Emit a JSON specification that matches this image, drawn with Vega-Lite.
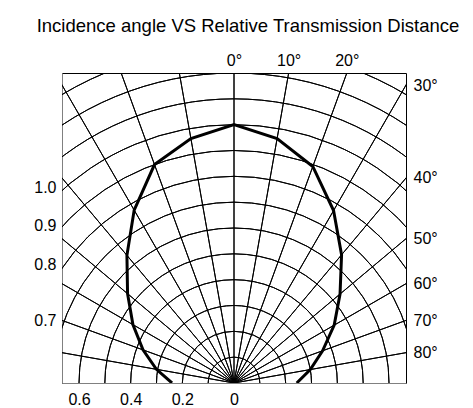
{
  "$schema": "https://vega.github.io/schema/vega-lite/v6.json",
  "width": 344,
  "height": 310,
  "autosize": "none",
  "padding": {"left": 62, "top": 73, "right": 67, "bottom": 25},
  "background": "white",
  "config": {
    "view": {"stroke": "black", "strokeWidth": 1},
    "font": "Liberation Sans",
    "axis": {"labelFont": "Liberation Sans", "labelFontSize": 16, "labelColor": "black", "ticks": false, "grid": false, "domain": false, "title": null}
  },
  "title": {
    "text": "Incidence angle VS Relative Transmission Distance",
    "font": "Liberation Sans",
    "fontSize": 18.5,
    "fontWeight": "normal",
    "color": "black",
    "anchor": "middle",
    "offset": 17,
    "dx": 14
  },
  "data": {
    "values": [
      {"angle": -90, "distance": 0.24},
      {"angle": -80, "distance": 0.305},
      {"angle": -70, "distance": 0.375},
      {"angle": -60, "distance": 0.452},
      {"angle": -50, "distance": 0.538},
      {"angle": -40, "distance": 0.645},
      {"angle": -30, "distance": 0.773},
      {"angle": -20, "distance": 0.9},
      {"angle": -10, "distance": 0.961},
      {"angle": 0, "distance": 1.0},
      {"angle": 10, "distance": 0.961},
      {"angle": 20, "distance": 0.892},
      {"angle": 30, "distance": 0.771},
      {"angle": 40, "distance": 0.648},
      {"angle": 50, "distance": 0.536},
      {"angle": 60, "distance": 0.448},
      {"angle": 70, "distance": 0.365},
      {"angle": 80, "distance": 0.3},
      {"angle": 90, "distance": 0.243}
    ]
  },
  "transform": [
    {"calculate": "datum.distance * sin(datum.angle * PI / 180)", "as": "x"},
    {"calculate": "datum.distance * cos(datum.angle * PI / 180)", "as": "y"}
  ],
  "layer": [
    {
      "data": {"values": [
        {"r": 0.1}, {"r": 0.2}, {"r": 0.3}, {"r": 0.4}, {"r": 0.5}, {"r": 0.6}, {"r": 0.7},
        {"r": 0.8}, {"r": 0.9}, {"r": 1.0}, {"r": 1.1}, {"r": 1.2}, {"r": 1.3}
      ]},
      "mark": {"type": "arc", "filled": false, "stroke": "black", "strokeWidth": 1, "clip": true, "y": "height"},
      "encoding": {
        "theta": {"datum": -90, "type": "quantitative", "scale": {"domain": [0, 180], "range": [0, 3.14159265]}},
        "theta2": {"datum": 90},
        "radius": {"field": "r", "type": "quantitative", "scale": {"type": "linear", "domain": [0, 1.2], "range": [0, 310], "zero": true}},
        "radius2": {"field": "r"}
      }
    },
    {
      "data": {"values": [
        {"a": -80}, {"a": -70}, {"a": -60}, {"a": -50}, {"a": -40}, {"a": -30}, {"a": -20}, {"a": -10},
        {"a": 0}, {"a": 10}, {"a": 20}, {"a": 30}, {"a": 40}, {"a": 50}, {"a": 60}, {"a": 70}, {"a": 80}
      ]},
      "mark": {"type": "arc", "filled": false, "stroke": "black", "strokeWidth": 1, "clip": true, "y": "height"},
      "encoding": {
        "theta": {"field": "a", "type": "quantitative", "stack": null},
        "theta2": {"field": "a"},
        "radius": {"datum": 0, "type": "quantitative"},
        "radius2": {"datum": 2}
      }
    },
    {
      "mark": {"type": "line", "color": "black", "strokeWidth": 3, "strokeJoin": "miter", "clip": true},
      "encoding": {
        "x": {"field": "x", "type": "quantitative", "scale": {"domain": [-0.666, 0.666], "nice": false, "zero": false},
          "axis": {"orient": "bottom", "values": [-0.6, -0.4, -0.2, 0], "labelExpr": "datum.value == 0 ? '0' : format(abs(datum.value), '.1f')", "labelPadding": 8, "domain": true, "domainColor": "#808080"}},
        "y": {"field": "y", "type": "quantitative", "scale": {"domain": [0, 1.2], "nice": false, "zero": false},
          "axis": {"orient": "left", "values": [0.243, 0.46, 0.611, 0.757], "labelExpr": "datum.value < 0.3 ? '0.7' : datum.value < 0.5 ? '0.8' : datum.value < 0.7 ? '0.9' : '1.0'", "labelPadding": 6, "domain": true, "domainColor": "#808080"}},
        "order": {"field": "angle", "type": "quantitative"}
      }
    },
    {
      "mark": {"type": "point", "opacity": 0},
      "encoding": {
        "x": {"field": "x", "type": "quantitative",
          "axis": {"orient": "top", "values": [0, 0.2116, 0.4368], "labelExpr": "datum.value < 0.1 ? '0°' : datum.value < 0.3 ? '10°' : '20°'", "labelPadding": 5}},
        "y": {"field": "y", "type": "quantitative",
          "axis": {"orient": "right", "values": [0.117, 0.242, 0.384, 0.559, 0.794, 1.153], "labelExpr": "datum.value < 0.2 ? '80°' : datum.value < 0.3 ? '70°' : datum.value < 0.45 ? '60°' : datum.value < 0.65 ? '50°' : datum.value < 1 ? '40°' : '30°'", "labelPadding": 7}}
      }
    }
  ],
  "resolve": {"axis": {"x": "independent", "y": "independent"}}
}
